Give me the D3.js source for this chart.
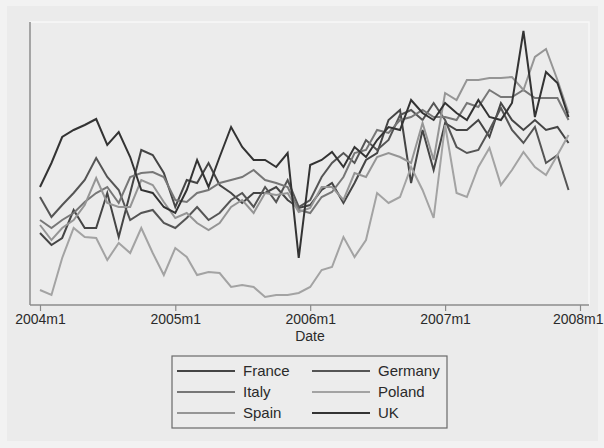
<!DOCTYPE html>
<html>
<head>
<meta charset="utf-8">
<script src="https://cdn.jsdelivr.net/npm/d3@7"></script>
<style>
  html, body { margin: 0; padding: 0; background: #f2f2f2; }
  svg { display: block; font-family: "Liberation Sans", Arial, Helvetica, sans-serif; }
</style>
</head>
<body>
<svg id="chart" width="604" height="448"></svg>
<script>
// Monthly series, 2004m1 .. 2007m12 (48 months each)
const months = d3.range(48).map(i => new Date(2004, i, 1));

const france  = [38.5,32.5,36,50,41,41,58.5,36.5,58.5,80, 77.5,68.5,51.5,65,63.5,73.5,62.5,58.5,53.5,58.5,
                 58.5,61.5,55,51,52.5,60,63.5,53.5,63.5,75, 78.5,95,100,63.5,90,70,93.5,90,90,95,
                 86.5,103.5,95,90,95,90,91.5,83.5];
const germany = [56.5,46.5,52.5,58.5,65,76,66.5,60,45,48.5, 50,43.5,41,46,51.5,45,48.5,55,58.5,51.5,
                 61.5,54,65,51.5,55,66.5,73.5,78.5,73.5,85, 80,85,97.5,100,95,103.5,95,81.5,78.5,80,
                 90,101,90,83.5,91.5,73.5,77.5,60];
const italy   = [45,41,45,48.5,54,58.5,61.5,53.5,66.5,68.5, 69,66.5,55,54,58.5,60,63.5,65,66.5,70,
                 65,63.5,61.5,50,48.5,56.5,59,66.5,78.5,80, 90,88.5,95,96.5,100,96.5,96.5,95,103.5,101.5,
                 110,106.5,106.5,110,106,106,106,95];
const poland  = [10,7.5,26,41,36.5,36,25,33.5,28.5,41, 28.5,17.5,31,26.5,17.5,19,18.5,11.5,12.5,11.5,
                 6.5,7.5,7.5,8.5,11.5,20,21.5,36.5,26.5,35, 58.5,53.5,56.5,71.5,60,46,92.5,58.5,56.5,71.5,
                 81,62.5,70,79,71.5,67.5,77.5,87.5];
const spain   = [42.5,35,41,45,52.5,66,53.5,51.5,51.5,65, 62.5,54,46,48.5,43.5,40,43.5,51.5,55,48.5,
                 58.5,57.5,58.5,49,51,61.5,61.5,55,68.5,66.5, 76.5,78.5,76.5,73.5,93.5,75,108.5,105,115,115,
                 116,116,116.5,110,126.5,130.5,115,98.5];
const uk      = [61.5,73.5,86.5,90,92.5,95.5,82.5,89,76.5,60, 58.5,51.5,48.5,60,75,61.5,76.5,91.5,81.5,75,
                 75,71.5,78.5,26,72.5,75,79,71.5,81.5,76.5, 85,91.5,90,105,98.5,95,103.5,98.5,95,105,
                 96.5,95,103.5,139.5,96.5,119,113.5,96.5];

const countries = ["France", "Germany", "Italy", "Poland", "Spain", "UK"];
const seriesValues = [france, germany, italy, poland, spain, uk];
const lineColors = ["#454545", "#555555", "#777777", "#a3a3a3", "#959595", "#333333"];

const tickDates = [new Date(2004,0,1), new Date(2005,0,1), new Date(2006,0,1), new Date(2007,0,1), new Date(2008,0,1)];
const tickLabels = ["2004m1", "2005m1", "2006m1", "2007m1", "2008m1"];

const svg = d3.select("#chart");

// graph region
svg.append("rect").attr("x", 7).attr("y", 6).attr("width", 591).attr("height", 435).attr("fill", "#ebebeb");

const plot = { left: 30, right: 589, top: 22, bottom: 305 };

// plot region outline (light)
svg.append("rect")
  .attr("x", plot.left).attr("y", plot.top)
  .attr("width", plot.right - plot.left).attr("height", plot.bottom - plot.top)
  .attr("fill", "#ececec").attr("stroke", "#f7f7f7").attr("stroke-width", 1.5);

const x = d3.scaleTime().domain([new Date(2004,0,1), new Date(2008,0,1)]).range([40, 580]);
const y = d3.scaleLinear().domain([2.5, 144]).range([plot.bottom, plot.top]);

// left axis line
svg.append("line")
  .attr("x1", plot.left).attr("x2", plot.left).attr("y1", plot.top).attr("y2", plot.bottom)
  .attr("stroke", "#8a8a8a").attr("stroke-width", 1.5);

// bottom axis
const xAxis = d3.axisBottom(x).tickValues(tickDates).tickFormat((d, i) => tickLabels[i]).tickSize(6).tickPadding(3);
const gx = svg.append("g").attr("transform", `translate(0,${plot.bottom})`).call(xAxis);
gx.select(".domain").attr("d", `M${plot.left},0H${plot.right}`).attr("stroke", "#8a8a8a").attr("stroke-width", 1.5);
gx.selectAll(".tick line").attr("stroke", "#8a8a8a").attr("stroke-width", 1.2);
gx.selectAll(".tick text").attr("font-size", 14).attr("fill", "#2a2a2a").attr("font-family", "Liberation Sans, Arial, sans-serif");
// keep the last label inside the right edge
gx.selectAll(".tick text").filter((d, i) => i === tickDates.length - 1).attr("text-anchor", "end").attr("dx", 23);

svg.append("text").attr("x", 310).attr("y", 341).attr("text-anchor", "middle")
  .attr("font-size", 14).attr("fill", "#2a2a2a").text("Date");

// lines
const line = d3.line().x((d, i) => x(months[i])).y(d => y(d));
svg.append("g").selectAll("path")
  .data(seriesValues)
  .join("path")
  .attr("d", d => line(d))
  .attr("fill", "none")
  .attr("stroke", (d, i) => lineColors[i])
  .attr("stroke-width", 2)
  .attr("stroke-linejoin", "miter");

// legend
const lg = svg.append("g");
lg.append("rect").attr("x", 172).attr("y", 356).attr("width", 275).attr("height", 72)
  .attr("fill", "#ececec").attr("stroke", "#6a6a6a").attr("stroke-width", 1.2);
const cols = [177, 312];
const rows = [371, 392, 413];
countries.forEach((c, i) => {
  const cx = cols[i % 2], cy = rows[Math.floor(i / 2)];
  lg.append("line").attr("x1", cx).attr("x2", cx + 58).attr("y1", cy).attr("y2", cy)
    .attr("stroke", lineColors[i]).attr("stroke-width", 1.8);
  lg.append("text").attr("x", cx + 66).attr("y", cy + 5).attr("font-size", 15).attr("fill", "#2a2a2a").text(c);
});
</script>
</body>
</html>
